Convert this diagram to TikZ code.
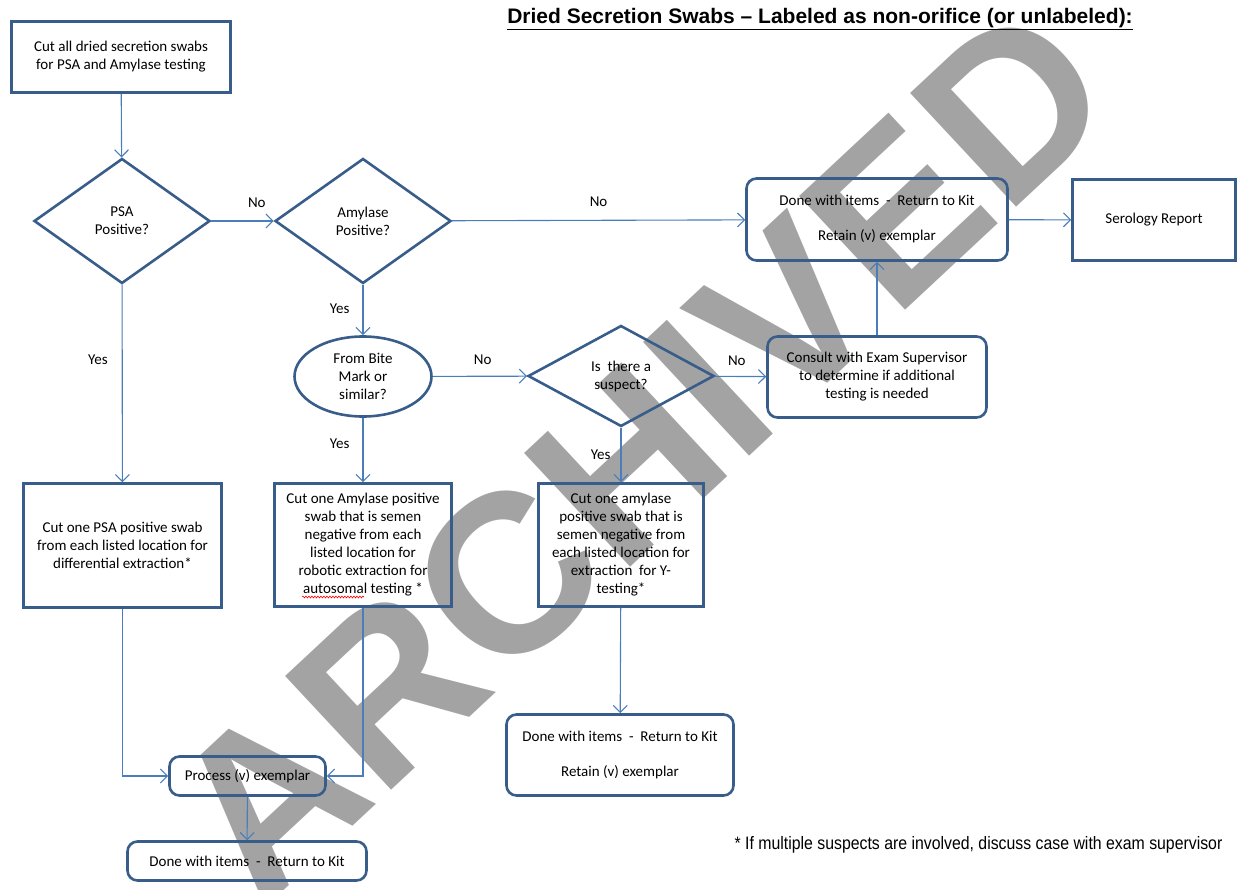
\documentclass[tikz,border=0pt]{standalone}
\usepackage{fontspec}
\setmainfont{Carlito}
\newfontfamily\arialfont{Liberation Sans}
\newfontfamily\narrowfont[FakeStretch=0.88]{Liberation Sans}
\usetikzlibrary{shapes.geometric,arrows.meta,positioning,decorations.pathmorphing}
\definecolor{boxblue}{HTML}{385D8A}
\definecolor{linkblue}{HTML}{4A7EBB}
\definecolor{stampgray}{HTML}{A3A3A3}

\begin{document}
\begin{tikzpicture}[x=1pt, y=-1pt,
    every node/.style={font=\fontsize{15}{18}\selectfont, align=center, inner sep=0pt},
    box/.style={draw=boxblue, line width=2.6pt},
    rbox/.style={box, rounded corners=10pt},
    decision/.style={box, diamond},
    link/.style={linkblue, line width=1.1pt, -{Straight Barb[length=7pt,width=14pt]}},
    lbl/.style={text=black, font=\fontsize{15}{18}\selectfont},
    spellwave/.style={red, line width=0.6pt, decorate, decoration={snake, amplitude=0.9pt, segment length=3pt}}]
    \useasboundingbox (0,0) rectangle (1238,890);

    \node [stampgray, rotate=43, font=\arialfont\bfseries\fontsize{226}{226}\selectfont] (wm) at (640,452) {ARCHIVED};
    \node [font=\arialfont\bfseries\fontsize{21}{24}\selectfont] (title) at (820,19) {\underline{Dried Secretion Swabs – Labeled as non-orifice (or unlabeled):}};

    \node [box, minimum width=219, minimum height=71] (n0) at (121,57) {Cut all dried secretion swabs\\for PSA and Amylase testing};
    \node [decision, minimum width=176, minimum height=125] (n1) at (122,221) {PSA\\Positive?};
    \node [decision, minimum width=176, minimum height=125] (n2) at (363,221) {Amylase\\Positive?};
    \node [rbox, minimum width=261, minimum height=82] (n3) at (877,219.5) {Done with items \ - \ Return to Kit\\[17pt]Retain (v) exemplar};
    \node [box, minimum width=163, minimum height=81] (n4) at (1154,220) {Serology Report};
    \node [box, ellipse, minimum width=137, minimum height=80] (n5) at (363,376.5) {From Bite\\Mark or\\similar?};
    \node [decision, minimum width=186, minimum height=101] (n6) at (621,376) {Is \ there a\\suspect?};
    \node [rbox, minimum width=219, minimum height=81] (n7) at (877,377) {Consult with Exam Supervisor\\to determine if additional\\testing is needed};
    \node [box, minimum width=198, minimum height=124] (n8) at (122.5,545.5) {Cut one PSA positive swab\\from each listed location for\\differential extraction*};
    \node [box, minimum width=177, minimum height=123] (n9) at (363,545) {Cut one Amylase positive\\swab that is semen\\negative from each\\listed location for\\robotic extraction for\\autosomal testing *};
    \node [box, minimum width=165, minimum height=123] (n10) at (621,545) {Cut one amylase\\positive swab that is\\semen negative from\\each listed location for\\extraction \ for Y-\\testing*};
    \node [rbox, minimum width=156, minimum height=39] (n11) at (247.5,776) {Process (v) exemplar};
    \node [rbox, minimum width=239, minimum height=39] (n12) at (247,861) {Done with items \ - \ Return to Kit};
    \node [rbox, minimum width=227, minimum height=81] (n13) at (620,755) {Done with items \ - \ Return to Kit\\[17pt]Retain (v) exemplar};

    \node [font=\narrowfont\fontsize{18}{20}\selectfont] (note) at (978.5,845) {* If multiple suspects are involved, discuss case with exam supervisor};

    \draw[spellwave] ([shift={(-61,52)}]n9.center) -- ([shift={(1,52)}]n9.center);

    \path[link]
        (n0) edge (n1)
        (n1) edge node[lbl, pos=0.73, above=13pt] {No} (n2)
        (n2) edge node[lbl, pos=0.5, above=13pt] {No} (n3)
        (n3) edge (n4)
        (n1) edge node[lbl, pos=0.38, left=14pt] {Yes} (n8)
        (n2) edge node[lbl, pos=0.48, left=13pt] {Yes} (n5)
        (n5) edge node[lbl, pos=0.53, above=11pt] {No} (n6)
        (n6) edge node[lbl, pos=0.43, above=10pt] {No} (n7)
        (n7) edge (n3)
        (n5) edge node[lbl, pos=0.41, left=13pt] {Yes} (n9)
        (n6) edge node[lbl, pos=0.5, left=10pt] {Yes} (n10)
        (n10) edge (n13)
        (n11) edge (n12);
    \draw[link] (n8) |- (n11);
    \draw[link] (n9) |- (n11);
\end{tikzpicture}
\end{document}
